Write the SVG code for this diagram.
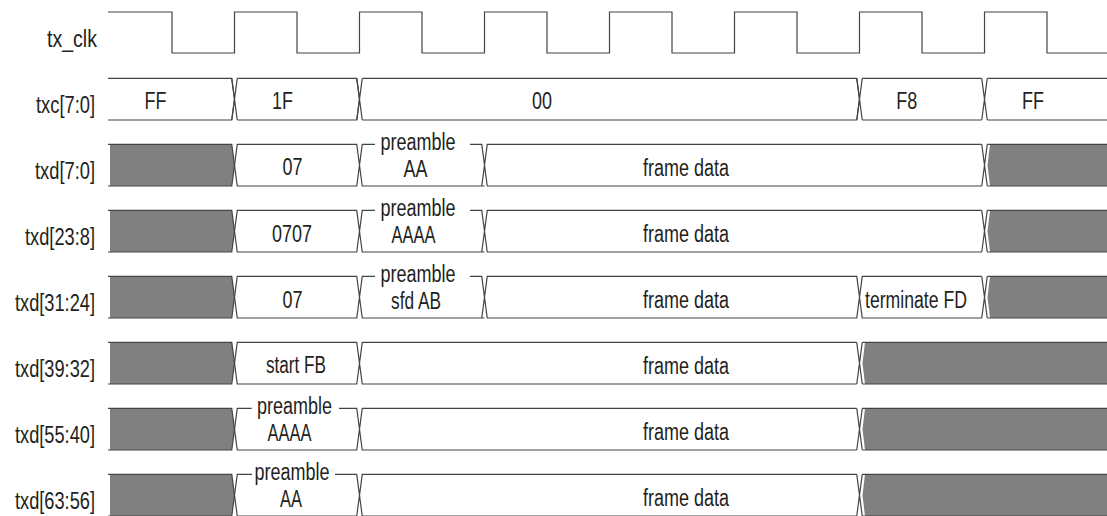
<svg xmlns="http://www.w3.org/2000/svg" width="1107" height="516" viewBox="0 0 1107 516">
<style>
text{font-family:"Liberation Sans",Arial,sans-serif;font-size:23px;fill:#231f20}
.lbl{text-anchor:end}
.v{text-anchor:middle}
.ln{fill:none;stroke:#444;stroke-width:1.2;stroke-linejoin:miter}
.gf{fill:#808080;stroke:none}
</style>
<rect width="1107" height="516" fill="#fff"/>

<g id="tx_clk">
<text class="lbl" x="97" y="47" textLength="50" lengthAdjust="spacingAndGlyphs">tx_clk</text>
<path class="ln" d="M108,12H172V53H234.5V12H297V53H359.5V12H422V53H484.5V12H547V53H609.5V12H672V53H734.5V12H797V53H859.5V12H922V53H984.5V12H1047V53H1108"/>
</g>

<g id="txc">
<text class="lbl" x="95" y="112.5" textLength="59" lengthAdjust="spacingAndGlyphs">txc[7:0]</text>
<path class="ln" d="M108,78.3H231.75L234.5,99.15L231.75,120H108"/>
<path class="ln" d="M231.75,78.3L237.25,120M231.75,120L237.25,78.3"/>
<path class="ln" d="M237.25,78.3H356.75L359.5,99.15L356.75,120H237.25"/>
<path class="ln" d="M356.75,78.3L362.25,120M356.75,120L362.25,78.3"/>
<path class="ln" d="M362.25,78.3H856.75L859.5,99.15L856.75,120H362.25"/>
<path class="ln" d="M856.75,78.3L862.25,120M856.75,120L862.25,78.3"/>
<path class="ln" d="M862.25,78.3H981.75M862.25,120H981.75"/>
<path class="ln" d="M981.75,78.3L987.25,120M981.75,120L987.25,78.3"/>
<path class="ln" d="M987.25,78.3H1108M987.25,120H1108"/>
<text class="v" x="155.5" y="109" textLength="22" lengthAdjust="spacingAndGlyphs">FF</text>
<text class="v" x="282.5" y="109" textLength="21" lengthAdjust="spacingAndGlyphs">1F</text>
<text class="v" x="542" y="109" textLength="20" lengthAdjust="spacingAndGlyphs">00</text>
<text class="v" x="906.7" y="109" textLength="21" lengthAdjust="spacingAndGlyphs">F8</text>
<text class="v" x="1033" y="109" textLength="22" lengthAdjust="spacingAndGlyphs">FF</text>
</g>

<g id="txd_7_0">
<text class="lbl" x="95" y="178.5" textLength="60" lengthAdjust="spacingAndGlyphs">txd[7:0]</text>
<polygon class="gf" points="110,144.3 231.75,144.3 234.5,165.15 231.75,186 110,186"/>
<path class="ln" d="M108,144.3H231.75L234.5,165.15L231.75,186H108"/>
<path class="ln" d="M234.5,165.15L237.25,144.3H356.75L362.25,186H484.5M234.5,165.15L237.25,186H356.75L362.25,144.3H375M470,144.3H481.75L487.25,186H981.75M481.75,186L487.25,144.3H981.75"/>
<polygon class="gf" points="990,144.3 1108,144.3 1108,186 990,186 987.5,165.15"/>
<path class="ln" d="M981.75,144.3L987.25,186M981.75,186L987.25,144.3M987.25,144.3H1108M987.25,186H1108"/>
<text class="v" x="292.5" y="175" textLength="20" lengthAdjust="spacingAndGlyphs">07</text>
<text class="v" x="418" y="149.5" textLength="75" lengthAdjust="spacingAndGlyphs">preamble</text>
<text class="v" x="415.5" y="177" textLength="24" lengthAdjust="spacingAndGlyphs">AA</text>
<text class="v" x="686" y="176" textLength="86" lengthAdjust="spacingAndGlyphs">frame data</text>
</g>

<g id="txd_23_8">
<text class="lbl" x="95" y="244.5" textLength="70" lengthAdjust="spacingAndGlyphs">txd[23:8]</text>
<polygon class="gf" points="110,210.3 231.75,210.3 234.5,231.15 231.75,252 110,252"/>
<path class="ln" d="M108,210.3H231.75L234.5,231.15L231.75,252H108"/>
<path class="ln" d="M234.5,231.15L237.25,210.3H356.75L362.25,252H484.5M234.5,231.15L237.25,252H356.75L362.25,210.3H375M470,210.3H481.75L487.25,252H981.75M481.75,252L487.25,210.3H981.75"/>
<polygon class="gf" points="990,210.3 1108,210.3 1108,252 990,252 987.5,231.15"/>
<path class="ln" d="M981.75,210.3L987.25,252M981.75,252L987.25,210.3M987.25,210.3H1108M987.25,252H1108"/>
<text class="v" x="292" y="241.5" textLength="40" lengthAdjust="spacingAndGlyphs">0707</text>
<text class="v" x="418" y="215.5" textLength="75" lengthAdjust="spacingAndGlyphs">preamble</text>
<text class="v" x="413.5" y="243" textLength="44" lengthAdjust="spacingAndGlyphs">AAAA</text>
<text class="v" x="686" y="242" textLength="86" lengthAdjust="spacingAndGlyphs">frame data</text>
</g>

<g id="txd_31_24">
<text class="lbl" x="95" y="310.5" textLength="80" lengthAdjust="spacingAndGlyphs">txd[31:24]</text>
<polygon class="gf" points="110,276.3 231.75,276.3 234.5,297.15 231.75,318 110,318"/>
<path class="ln" d="M108,276.3H231.75L234.5,297.15L231.75,318H108"/>
<path class="ln" d="M234.5,297.15L237.25,276.3H356.75L362.25,318H484.5M234.5,297.15L237.25,318H356.75L362.25,276.3H375M470,276.3H481.75L487.25,318H856.75L862.25,276.3H981.75M481.75,318L487.25,276.3H856.75L862.25,318H981.75"/>
<polygon class="gf" points="990,276.3 1108,276.3 1108,318 990,318 987.5,297.15"/>
<path class="ln" d="M981.75,276.3L987.25,318M981.75,318L987.25,276.3M987.25,276.3H1108M987.25,318H1108"/>
<text class="v" x="292.5" y="307.5" textLength="20" lengthAdjust="spacingAndGlyphs">07</text>
<text class="v" x="418" y="281.5" textLength="75" lengthAdjust="spacingAndGlyphs">preamble</text>
<text class="v" x="416" y="309" textLength="50" lengthAdjust="spacingAndGlyphs">sfd AB</text>
<text class="v" x="686" y="308" textLength="86" lengthAdjust="spacingAndGlyphs">frame data</text>
<text class="v" x="916" y="308" textLength="102" lengthAdjust="spacingAndGlyphs">terminate FD</text>
</g>

<g id="txd_39_32">
<text class="lbl" x="95" y="376.5" textLength="80" lengthAdjust="spacingAndGlyphs">txd[39:32]</text>
<polygon class="gf" points="110,342.3 231.75,342.3 234.5,363.15 231.75,384 110,384"/>
<path class="ln" d="M108,342.3H231.75L234.5,363.15L231.75,384H108"/>
<path class="ln" d="M234.5,363.15L237.25,342.3H356.75L362.25,384H856.75M234.5,363.15L237.25,384H356.75L362.25,342.3H856.75"/>
<polygon class="gf" points="865,342.3 1108,342.3 1108,384 865,384 862.5,363.15"/>
<path class="ln" d="M856.75,342.3L862.25,384M856.75,384L862.25,342.3M862.25,342.3H1108M862.25,384H1108"/>
<text class="v" x="296" y="373" textLength="60" lengthAdjust="spacingAndGlyphs">start FB</text>
<text class="v" x="686" y="374" textLength="86" lengthAdjust="spacingAndGlyphs">frame data</text>
</g>

<g id="txd_55_40">
<text class="lbl" x="95" y="442.5" textLength="80" lengthAdjust="spacingAndGlyphs">txd[55:40]</text>
<polygon class="gf" points="110,408.3 231.75,408.3 234.5,429.15 231.75,450 110,450"/>
<path class="ln" d="M108,408.3H231.75L234.5,429.15L231.75,450H108"/>
<path class="ln" d="M234.5,429.15L237.25,408.3H251.7M339,408.3H356.75L362.25,450H856.75M234.5,429.15L237.25,450H356.75L362.25,408.3H856.75"/>
<polygon class="gf" points="865,408.3 1108,408.3 1108,450 865,450 862.5,429.15"/>
<path class="ln" d="M856.75,408.3L862.25,450M856.75,450L862.25,408.3M862.25,408.3H1108M862.25,450H1108"/>
<text class="v" x="294.5" y="413.5" textLength="75" lengthAdjust="spacingAndGlyphs">preamble</text>
<text class="v" x="289.5" y="441" textLength="44" lengthAdjust="spacingAndGlyphs">AAAA</text>
<text class="v" x="686" y="440" textLength="86" lengthAdjust="spacingAndGlyphs">frame data</text>
</g>

<g id="txd_63_56">
<text class="lbl" x="95" y="508.5" textLength="80" lengthAdjust="spacingAndGlyphs">txd[63:56]</text>
<polygon class="gf" points="110,474.3 231.75,474.3 234.5,495.15 231.75,516 110,516"/>
<path class="ln" d="M108,474.3H231.75L234.5,495.15L231.75,516H108"/>
<path class="ln" d="M234.5,495.15L237.25,474.3H252M335,474.3H356.75L362.25,516H856.75M234.5,495.15L237.25,516H356.75L362.25,474.3H856.75"/>
<polygon class="gf" points="865,474.3 1108,474.3 1108,516 865,516 862.5,495.15"/>
<path class="ln" d="M856.75,474.3L862.25,516M856.75,516L862.25,474.3M862.25,474.3H1108M862.25,516H1108"/>
<text class="v" x="292" y="479.5" textLength="75" lengthAdjust="spacingAndGlyphs">preamble</text>
<text class="v" x="291" y="507" textLength="22" lengthAdjust="spacingAndGlyphs">AA</text>
<text class="v" x="686" y="506" textLength="86" lengthAdjust="spacingAndGlyphs">frame data</text>
</g>
</svg>
